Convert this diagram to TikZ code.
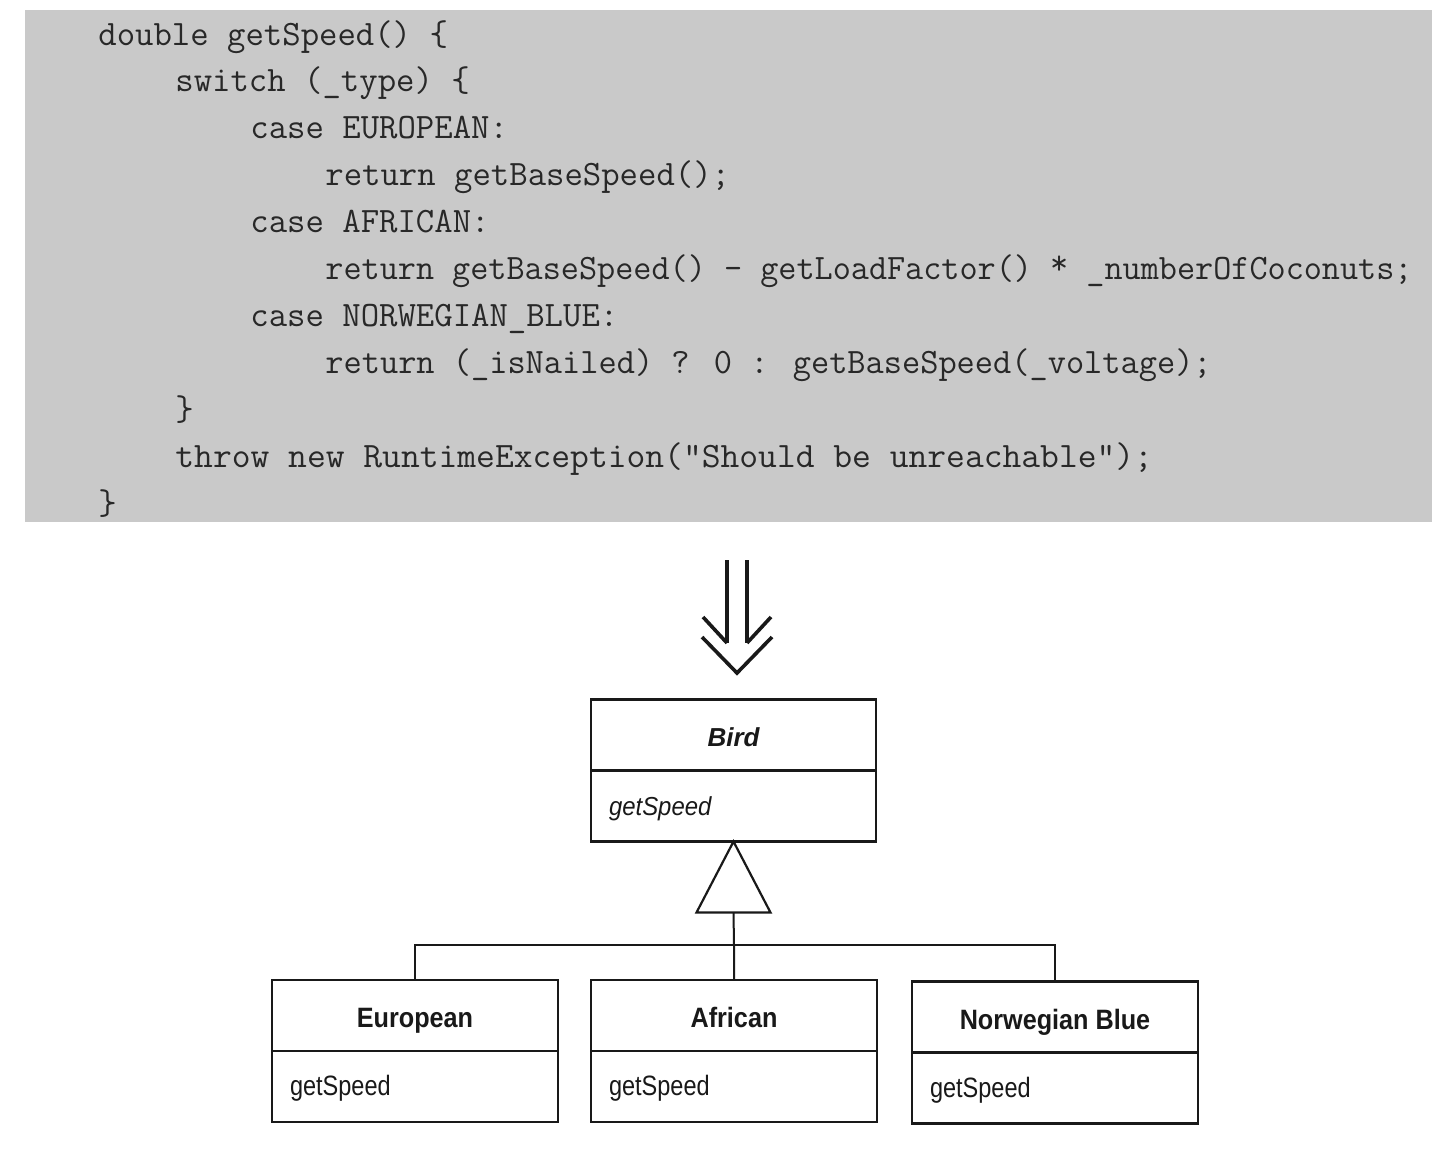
\documentclass[tikz,border=0pt]{standalone}
\usepackage{fontspec}
\setmainfont{Liberation Sans}
\usetikzlibrary{positioning,calc}
\definecolor{codebg}{RGB}{201,201,201}
\definecolor{codefg}{RGB}{40,40,40}
\definecolor{ink}{RGB}{25,25,25}
\tikzset{
  codeline/.style={anchor=base west, inner sep=0pt, text=codefg, font=\ttfamily\fontsize{17.86pt}{20pt}\selectfont},
  titlepart/.style={draw=ink, line width=1.1pt, outer sep=0pt, minimum width=143pt, minimum height=35.5pt, inner sep=0pt, text height=12pt, text depth=0pt, font=\fontsize{14pt}{16pt}\selectfont\bfseries, text=ink},
  methpart/.style={draw=ink, line width=1.1pt, outer sep=0pt, text width=125pt, inner xsep=9pt, inner ysep=0pt, minimum height=35.5pt, text height=9pt, text depth=0pt, align=left, font=\fontsize{14pt}{16pt}\selectfont, text=ink},
  conn/.style={draw=ink, line width=1pt},
  bigarrow/.style={draw=ink, line width=1.8pt},
}
\newcommand{\cnd}[1]{\scalebox{0.9}[1]{#1}}
\newcommand{\mth}[1]{\scalebox{0.84}[1]{#1}}
\newcommand{\rast}{\raisebox{0.3ex}{*}}
\begin{document}
\begin{tikzpicture}[x=0.5pt, y=-0.5pt]
\useasboundingbox[fill=white] (0,0) rectangle (1456,1153);
% code panel
\node[fill=codebg, minimum width=703.5pt, minimum height=256pt, inner sep=0pt] (code) at (728.5,266) {};
\node[codeline] (l1) at (98,45) {double getSpeed() \{};
\node[codeline] (l2) at (175,91.9) {switch (\_type) \{};
\node[codeline] (l3) at (250,138.8) {case EUROPEAN:};
\node[codeline] (l4) at (325,185.7) {return getBaseSpeed();};
\node[codeline] (l5) at (250,232.6) {case AFRICAN:};
\node[codeline] (l6) at (325,279.5) {\scalebox{0.985}[1]{return getBaseSpeed() - getLoadFactor() \rast{} \_numberOfCoconuts;}};
\node[codeline] (l7) at (250,326.4) {case NORWEGIAN\_BLUE:};
\node[codeline] (l8) at (325,373.3) {\scalebox{0.99}[1]{return (\_isNailed) ? 0 : getBaseSpeed(\_voltage);}};
\node[codeline] (l9) at (175,420.2) {\}};
\node[codeline] (l10) at (175,467.1) {\scalebox{1.022}[1]{throw new RuntimeException("Should be unreachable");}};
\node[codeline] (l11) at (98,514) {\}};
% double arrow
\coordinate (da) at (737,560);
\draw[bigarrow] (727,560) -- (727,643);
\draw[bigarrow] (747,560) -- (747,643);
\draw[bigarrow] (703,617) -- (727,643);
\draw[bigarrow] (771,617) -- (747,643);
\draw[bigarrow, line join=miter] (702,637) -- (737,673) -- (772,637);
% Bird
\node[titlepart, minimum width=142.5pt, text height=11pt, font=\fontsize{13pt}{15pt}\selectfont\bfseries\itshape] (bird) at (733.5,735) {Bird};
\node[methpart, text width=124.5pt, text height=9.5pt, font=\fontsize{13pt}{15pt}\selectfont\itshape, anchor=north] (birdm) at (bird.south) {\scalebox{0.92}[1]{getSpeed}};
% subclasses
\node[titlepart] (eu) at (415,1015.5) {\cnd{European}};
\node[methpart, anchor=north] (eum) at (eu.south) {\mth{getSpeed}};
\node[titlepart] (af) at (734,1015.5) {\cnd{African}};
\node[methpart, anchor=north] (afm) at (af.south) {\mth{getSpeed}};
\node[titlepart] (nb) at (1055,1017) {\cnd{Norwegian Blue}};
\node[methpart, anchor=north] (nbm) at (nb.south) {\mth{getSpeed}};
% generalization
\coordinate (tl) at ($(birdm.south)+(-37,71)$);
\coordinate (tr) at ($(birdm.south)+(37,71)$);
\coordinate (tb) at ($(birdm.south)+(0,71)$);
\draw[conn, line width=1.1pt, line join=miter] (birdm.south) -- (tl) -- (tr) -- cycle;
\coordinate (bus) at (734,945);
\draw[conn] (tb) -- (bus) -- (af.north);
\draw[conn] (eu.north) |- (bus);
\draw[conn] (nb.north) |- (bus);
\end{tikzpicture}
\end{document}
